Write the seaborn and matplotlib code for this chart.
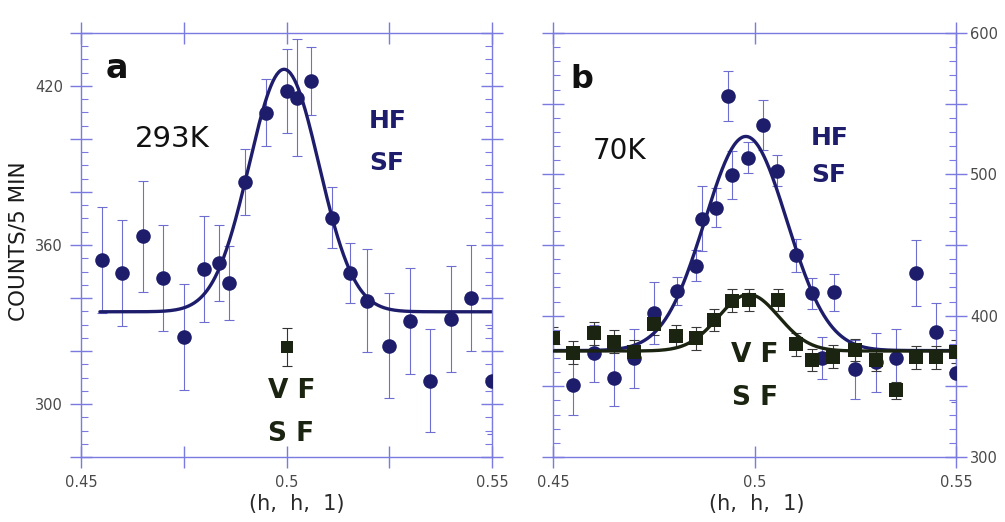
import numpy as np
import pandas as pd
import matplotlib
matplotlib.use("Agg")
import matplotlib.pyplot as plt
import seaborn as sns
from matplotlib.ticker import FixedLocator, MultipleLocator, FuncFormatter

# ---------------- data ----------------
# panel a, 293 K, HF SF (circles)
a_hf_h = [0.455, 0.46, 0.465, 0.47, 0.475, 0.48, 0.4835, 0.486, 0.49, 0.495,
          0.5, 0.5025, 0.506, 0.511, 0.5155, 0.5195, 0.525, 0.53, 0.535, 0.54,
          0.545, 0.55]
a_hf_counts = [354.4, 349.6, 363.3, 347.5, 325.3, 350.9, 353.2, 345.8, 383.8, 409.9,
               418.1, 415.6, 421.9, 370.2, 349.4, 339.0, 321.9, 331.4, 308.8, 332.0,
               339.9, 308.5]
a_hf_err = [20, 20, 21, 20, 20, 20, 14.5, 14, 12.3, 12.7,
            15.7, 22, 13, 11.5, 11.4, 19.5, 19.8, 20, 19.4, 20,
            20, 20]
# panel a, VF SF (square)
a_vf_h = [0.5]
a_vf_counts = [321.5]
a_vf_err = [7]
# panel a Gaussian fit (baseline, amplitude, centre, sigma)
a_fit = dict(base=334.8, amp=91.5, center=0.4994, sigma=0.0085, lo=0.4546, hi=0.55)

# panel b, 70 K, HF SF (circles)
b_hf_h = [0.455, 0.46, 0.465, 0.47, 0.475, 0.4806, 0.4854, 0.487, 0.4903, 0.4933,
          0.4944, 0.4983, 0.5021, 0.5056, 0.5102, 0.5142, 0.5168, 0.5196, 0.525, 0.53,
          0.535, 0.54, 0.545, 0.55]
b_hf_counts = [350.9, 373.3, 356.0, 369.8, 401.7, 417.6, 435.2, 468.7, 476.4, 555.4,
               499.7, 511.7, 534.9, 502.5, 442.7, 416.0, 370.2, 416.5, 362.0, 367.0,
               369.8, 430.0, 388.7, 359.1]
b_hf_err = [21, 20, 20, 21, 22, 10, 11, 23, 13.6, 18,
            17, 11, 18, 11, 11.5, 11, 15, 13, 21, 21,
            21, 23.5, 20, 20]
# panel b, VF SF (squares)
b_vf_h = [0.45, 0.455, 0.46, 0.465, 0.47, 0.4749, 0.4805, 0.4855, 0.49, 0.4944,
          0.4985, 0.5057, 0.5102, 0.5142, 0.5195, 0.5249, 0.53, 0.535, 0.54, 0.545, 0.55]
b_vf_counts = [384.0, 373.8, 387.5, 381.6, 374.5, 394.1, 385.6, 384.0, 397.0, 410.6,
               411.1, 411.1, 379.7, 368.6, 370.9, 375.7, 368.6, 347.3, 370.5, 370.5, 374.5]
b_vf_err = [8, 8, 8, 8, 8, 8, 8, 8, 8, 8,
            8, 8, 8, 8, 8, 8, 8, 6, 8, 8, 8]
# panel b Gaussian fits
b_hf_fit = dict(base=375.3, amp=151.5, center=0.4978, sigma=0.0102, lo=0.45, hi=0.55)
b_vf_fit = dict(base=375.0, amp=40.0, center=0.4985, sigma=0.0075, lo=0.45, hi=0.55)

x_label = "(h,  h,  1)"
y_label = "COUNTS/5 MIN"
a_x_ticks = [0.45, 0.475, 0.5, 0.525, 0.55]
a_x_labels = [0.45, 0.5, 0.55]
a_y_labels = [300, 360, 420]
b_x_ticks = [0.45, 0.5, 0.55]
b_y_labels = [300, 400, 500, 600]

# ---------------- style ----------------
NAVY = "#1d1d6b"
OLIVE = "#1b2410"
AXC = "#7a7ae0"
EBAR = "#6e6ed0"
TICKLAB = "#4a4a4a"

sns.set_style("ticks")
plt.rcParams['font.family'] = ['DejaVu Sans']


def fit_frame(p):
    h = np.linspace(p['lo'], p['hi'], 400)
    c = p['base'] + p['amp'] * np.exp(-0.5 * ((h - p['center']) / p['sigma']) ** 2)
    return pd.DataFrame({'h': h, 'counts': c})


fig = plt.figure(figsize=(10.05, 5.22), dpi=100)
ax1 = fig.add_axes([0.0806, 0.1245, 0.409, 0.8123])
ax2 = fig.add_axes([0.5506, 0.1245, 0.4007, 0.8123])

for ax in (ax1, ax2):
    for s in ax.spines.values():
        s.set_visible(True)
        s.set_color(AXC)
        s.set_linewidth(1.0)
    ax.set_facecolor("white")

# ---- panel a ----
ax1.errorbar(a_hf_h, a_hf_counts, yerr=a_hf_err, fmt='none', ecolor=EBAR,
             elinewidth=0.8, capsize=3.5, capthick=0.8, zorder=1)
ax1.errorbar(a_vf_h, a_vf_counts, yerr=a_vf_err, fmt='none', ecolor="#333333",
             elinewidth=0.8, capsize=3.5, capthick=0.8, zorder=1)
sns.lineplot(data=fit_frame(a_fit), x='h', y='counts', ax=ax1, color=NAVY,
             linewidth=2.4, zorder=2)
sns.scatterplot(x=a_hf_h, y=a_hf_counts, ax=ax1, marker='o', s=110, color=NAVY,
                edgecolor=NAVY, linewidth=0, zorder=3)
sns.scatterplot(x=a_vf_h, y=a_vf_counts, ax=ax1, marker='s', s=75, color=OLIVE,
                edgecolor=OLIVE, linewidth=0, zorder=3)

ax1.set_xlim(0.45, 0.55)
ax1.set_ylim(280, 440)
ax1.xaxis.set_major_locator(FixedLocator(a_x_ticks))
ax1.xaxis.set_major_formatter(FuncFormatter(
    lambda v, p: (f"{v:g}" if any(abs(v - t) < 1e-9 for t in a_x_labels) else "")))
ax1.yaxis.set_major_locator(MultipleLocator(20))
ax1.yaxis.set_minor_locator(MultipleLocator(5))
ax1.yaxis.set_major_formatter(FuncFormatter(
    lambda v, p: (f"{v:.0f}" if any(abs(v - t) < 1e-9 for t in a_y_labels) else "")))
ax1.tick_params(axis='both', which='major', direction='inout', length=16, width=1,
                color=AXC, labelcolor=TICKLAB, labelsize=10.5, pad=5,
                top=True, right=True, labelleft=True, labelright=False)
ax1.tick_params(axis='y', which='minor', direction='in', length=5, width=0.8,
                color=AXC, left=True, right=True)
ax1.set_xlabel(x_label, fontsize=15, color="#2a2a2a")
ax1.set_ylabel(y_label, fontsize=15.5, color="#1a1a1a")
ax1.xaxis.set_label_coords(0.525, -0.088)
ax1.yaxis.set_label_coords(-0.128, 0.51)

ax1.text(0.4587, 426.6, "a", fontsize=24, fontweight='bold', color="#111111",
         ha='center', va='center', zorder=5)
ax1.text(0.4721, 400.0, "293K", fontsize=21, color="#111111",
         ha='center', va='center', zorder=5)
ax1.text(0.5245, 406.7, "HF", fontsize=18, fontweight='bold', color=NAVY,
         ha='center', va='center', zorder=5)
ax1.text(0.5245, 391.1, "SF", fontsize=18, fontweight='bold', color=NAVY,
         ha='center', va='center', zorder=5)
ax1.text(0.5012, 305.0, "V F", fontsize=19, fontweight='bold', color=OLIVE,
         ha='center', va='center', zorder=5)
ax1.text(0.5012, 288.6, "S F", fontsize=19, fontweight='bold', color=OLIVE,
         ha='center', va='center', zorder=5)

# ---- panel b ----
ax2.errorbar(b_hf_h, b_hf_counts, yerr=b_hf_err, fmt='none', ecolor=EBAR,
             elinewidth=0.8, capsize=3.5, capthick=0.8, zorder=1)
ax2.errorbar(b_vf_h, b_vf_counts, yerr=b_vf_err, fmt='none', ecolor="#3a3a3a",
             elinewidth=0.8, capsize=3.5, capthick=0.8, zorder=1)
sns.lineplot(data=fit_frame(b_hf_fit), x='h', y='counts', ax=ax2, color=NAVY,
             linewidth=2.4, zorder=2)
sns.scatterplot(x=b_hf_h, y=b_hf_counts, ax=ax2, marker='o', s=110, color=NAVY,
                edgecolor=NAVY, linewidth=0, zorder=3)
sns.lineplot(data=fit_frame(b_vf_fit), x='h', y='counts', ax=ax2, color=OLIVE,
             linewidth=2.4, zorder=4)
sns.scatterplot(x=b_vf_h, y=b_vf_counts, ax=ax2, marker='s', s=95, color=OLIVE,
                edgecolor=OLIVE, linewidth=0, zorder=5)

ax2.set_xlim(0.45, 0.55)
ax2.set_ylim(300, 600)
ax2.xaxis.set_major_locator(FixedLocator(b_x_ticks))
ax2.xaxis.set_major_formatter(FuncFormatter(lambda v, p: f"{v:g}"))
ax2.yaxis.set_major_locator(MultipleLocator(50))
ax2.yaxis.set_minor_locator(MultipleLocator(10))
ax2.yaxis.set_major_formatter(FuncFormatter(
    lambda v, p: (f"{v:.0f}" if any(abs(v - t) < 1e-9 for t in b_y_labels) else "")))
ax2.tick_params(axis='both', which='major', direction='inout', length=16, width=1,
                color=AXC, labelcolor=TICKLAB, labelsize=10.5, pad=5,
                top=True, right=True, left=True, labelleft=False, labelright=True)
ax2.tick_params(axis='y', which='major', pad=2)
ax2.tick_params(axis='y', which='minor', direction='in', length=5, width=0.8,
                color=AXC, left=True, right=True)
ax2.set_xlabel(x_label, fontsize=15, color="#2a2a2a")
ax2.set_ylabel("")
ax2.xaxis.set_label_coords(0.505, -0.088)

ax2.text(0.457, 567.0, "b", fontsize=23, fontweight='bold', color="#111111",
         ha='center', va='center', zorder=6)
ax2.text(0.4665, 516.3, "70K", fontsize=20, color="#111111",
         ha='center', va='center', zorder=6)
ax2.text(0.5185, 525.8, "HF", fontsize=18, fontweight='bold', color=NAVY,
         ha='center', va='center', zorder=6)
ax2.text(0.5185, 499.8, "SF", fontsize=18, fontweight='bold', color=NAVY,
         ha='center', va='center', zorder=6)
ax2.text(0.5, 372.0, "V F", fontsize=19, fontweight='bold', color=OLIVE,
         ha='center', va='center', zorder=6)
ax2.text(0.5, 341.4, "S F", fontsize=19, fontweight='bold', color=OLIVE,
         ha='center', va='center', zorder=6)

fig.savefig("out.png", dpi=100, facecolor="white")
